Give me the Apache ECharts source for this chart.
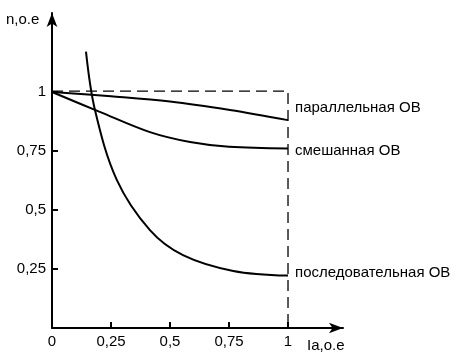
<!DOCTYPE html>
<html><head><meta charset="utf-8">
<script src="https://cdn.jsdelivr.net/npm/echarts@6/dist/echarts.min.js"></script>
<style>html,body{margin:0;padding:0;background:#fff}#c{width:469px;height:363px}</style>
</head><body><div id="c"></div>
<script>
const seriesNames = ['параллельная ОВ', 'смешанная ОВ', 'последовательная ОВ'];
const parallelX = [0, 0.25, 0.5, 0.754, 1.0];
const parallelY = [1.0, 0.982, 0.96, 0.924, 0.881];
const mixedX = [0, 0.2, 0.415, 0.585, 0.75, 1.0];
const mixedY = [1.0, 0.917, 0.83, 0.788, 0.768, 0.761];
const seriesX = [0.144, 0.182, 0.275, 0.415, 0.555, 0.768, 1.0];
const seriesY = [1.171, 0.924, 0.627, 0.415, 0.309, 0.242, 0.222];
const xTickValues = [0, 0.25, 0.5, 0.75, 1];
const xTickLabels = ['0', '0,25', '0,5', '0,75', '1'];
const yTickValues = [0.25, 0.5, 0.75, 1];
const yTickLabels = ['0,25', '0,5', '0,75', '1'];
const ratedX = 1.0, ratedY = 1.004;
const xName = 'Ia,o.e', yName = 'n,o.e';

const zip = (a, b) => a.map((v, i) => [v, b[i]]);
const font = 'Liberation Sans, Arial, sans-serif';
const chart = echarts.init(document.getElementById('c'), null, {renderer: 'canvas'});
const lineStyle = {color: '#000', width: 2};
function mk(name, data, offY) {
  return {
    name, type: 'line', data, smooth: 0.35, showSymbol: false,
    lineStyle, z: 3, silent: true,
    endLabel: {show: true, formatter: name, color: '#000', fontFamily: font, fontSize: 15,
      distance: 7, offset: [0, offY]}
  };
}
chart.setOption({
  animation: false,
  grid: {left: 52, top: 13, right: 126, bottom: 35, containLabel: false},
  xAxis: {
    type: 'value', min: 0, max: 1.233,
    axisLine: {lineStyle: {color: '#000', width: 2}, symbol: ['none', 'arrow'], symbolSize: [8, 14]},
    axisTick: {show: true, inside: true, length: 6, lineStyle: {color: '#000', width: 2}, customValues: [0.25, 0.5, 0.75, 1]},
    axisLabel: {customValues: xTickValues, color: '#000', fontFamily: font, fontSize: 15, margin: 6,
      formatter: v => xTickLabels[xTickValues.findIndex(t => Math.abs(t - v) < 1e-6)] || ''},
    splitLine: {show: false}
  },
  yAxis: {
    type: 'value', min: 0, max: 1.335,
    axisLine: {lineStyle: {color: '#000', width: 2}, symbol: ['none', 'arrow'], symbolSize: [8, 14]},
    axisTick: {show: true, inside: true, length: 6, lineStyle: {color: '#000', width: 2}, customValues: yTickValues},
    axisLabel: {customValues: yTickValues, color: '#000', fontFamily: font, fontSize: 15, margin: 6,
      padding: [4, 0, 0, 0],
      formatter: v => yTickLabels[yTickValues.findIndex(t => Math.abs(t - v) < 1e-6)] || ''},
    splitLine: {show: false}
  },
  graphic: [
    {type: 'text', left: 6, top: 12, style: {text: yName, font: '15px ' + font, fill: '#000'}},
    {type: 'text', left: 307, top: 338, style: {text: xName, font: '15px ' + font, fill: '#000'}}
  ],
  series: [
    {
      type: 'line', data: [[0, ratedY], [ratedX, ratedY], [ratedX, 0]], showSymbol: false, silent: true,
      lineStyle: {color: '#000', width: 1.3, type: [11, 6]}, z: 2
    },
    mk(seriesNames[0], zip(parallelX, parallelY), -12),
    mk(seriesNames[1], zip(mixedX, mixedY), 2),
    mk(seriesNames[2], zip(seriesX, seriesY), -3)
  ]
});
</script></body></html>
